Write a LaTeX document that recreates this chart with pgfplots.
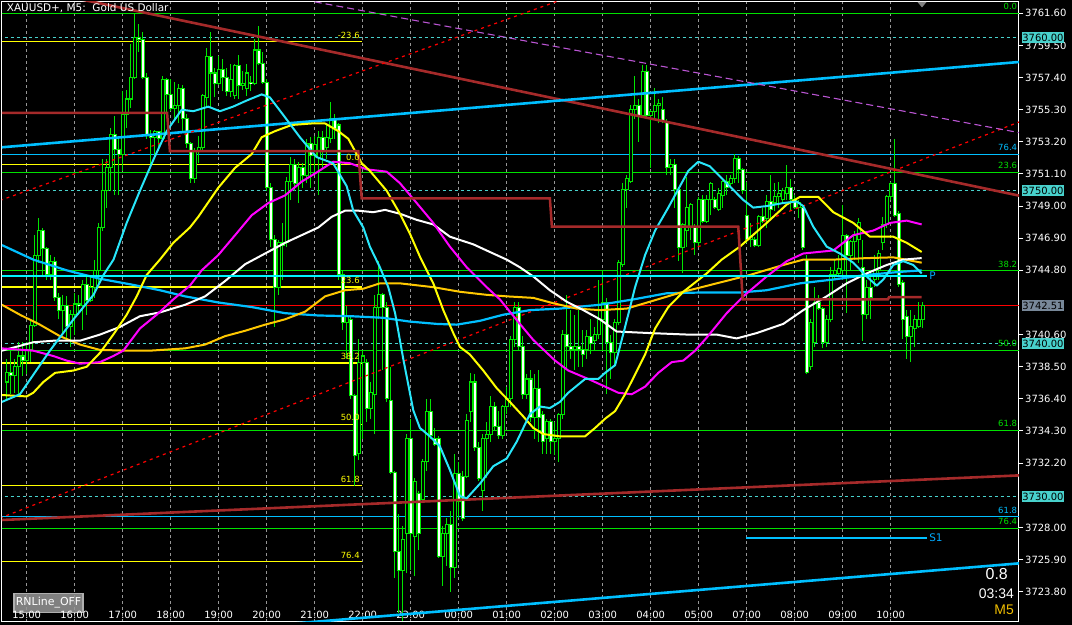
\documentclass[border=0pt]{standalone}
\usepackage{fontspec}
\setmainfont{DejaVu Sans}
\newfontfamily\arialf{Liberation Sans}
\usepackage{pgfplots}
\usepackage{pgfplotstable}
\pgfplotsset{compat=1.18}

\definecolor{cgreen}{RGB}{0,230,0}
\definecolor{fibgreen}{RGB}{0,225,0}
\definecolor{aqua}{RGB}{40,230,250}
\definecolor{sky}{RGB}{0,191,255}
\definecolor{goldma}{RGB}{255,200,0}
\definecolor{yel}{RGB}{255,255,0}
\definecolor{mag}{RGB}{255,0,255}
\definecolor{brn}{RGB}{165,42,42}
\definecolor{turq}{RGB}{72,209,204}
\definecolor{orch}{RGB}{186,85,211}
\definecolor{slate}{RGB}{120,136,153}
\definecolor{gridc}{RGB}{150,150,150}
\definecolor{pcyan}{RGB}{0,245,255}
\definecolor{plabel}{RGB}{0,170,255}
\definecolor{btn}{RGB}{128,128,128}
\definecolor{btnedge}{RGB}{175,175,175}
\definecolor{tfgold}{RGB}{240,190,0}

\tikzset{
  fibl/.style={anchor=south east, inner sep=0pt, yshift=3.2bp, font=\fontsize{8.5}{9}\selectfont},
  pbox/.style={anchor=west, xshift=2.7bp, inner xsep=0.5bp, inner ysep=0pt,
    minimum height=10.7bp, text=black, font=\fontsize{10}{12}\selectfont},
}

% M5 candles: bar index (0 = 15:00), open, high, low, close
\pgfplotstableread{
i o h l c
-5 3737.5 3739.0 3736.4 3738.1
-4 3738.1 3739.6 3736.7 3737.9
-3 3737.9 3739.0 3736.8 3738.5
-2 3738.5 3740.1 3736.7 3739.2
-1 3739.2 3740.1 3737.9 3738.9
0 3738.9 3740.1 3738.0 3739.6
1 3739.6 3741.6 3738.8 3741.2
2 3741.2 3747.1 3741.1 3745.8
3 3745.8 3748.2 3745.3 3747.4
4 3747.4 3747.6 3744.5 3746.2
5 3746.2 3746.3 3744.2 3744.5
6 3744.5 3745.8 3744.2 3745.4
7 3745.4 3745.7 3742.8 3743.0
8 3743.0 3743.3 3741.6 3742.2
9 3742.2 3743.2 3740.6 3742.5
10 3742.5 3743.1 3740.3 3741.1
11 3741.1 3742.2 3739.8 3741.9
12 3741.9 3743.3 3740.6 3742.6
13 3742.6 3743.2 3741.9 3742.5
14 3742.5 3744.2 3740.9 3743.9
15 3743.9 3744.5 3741.9 3742.8
16 3742.8 3744.5 3742.7 3743.7
17 3743.7 3745.5 3743.0 3744.8
18 3744.8 3747.9 3744.0 3747.6
19 3747.6 3752.1 3747.4 3750.0
20 3750.0 3752.1 3748.9 3751.5
21 3751.5 3754.1 3750.0 3753.7
22 3753.7 3754.9 3749.7 3752.7
23 3752.7 3753.4 3749.7 3752.4
24 3752.4 3756.5 3751.3 3755.0
25 3755.0 3756.6 3754.1 3756.0
26 3756.0 3759.6 3755.4 3757.4
27 3757.4 3761.6 3757.3 3760.0
28 3760.0 3760.9 3759.1 3759.9
29 3759.9 3760.4 3757.3 3757.4
30 3757.4 3757.7 3753.4 3753.6
31 3753.6 3754.0 3751.5 3753.5
32 3753.5 3754.0 3752.1 3753.9
33 3753.9 3753.9 3752.6 3753.4
34 3753.4 3757.5 3753.2 3757.3
35 3757.3 3757.4 3754.9 3756.3
36 3756.3 3757.3 3755.2 3755.4
37 3755.4 3757.1 3754.7 3755.6
38 3755.6 3757.0 3754.4 3756.7
39 3756.7 3756.9 3753.9 3754.7
40 3754.7 3755.0 3752.8 3753.1
41 3753.1 3753.2 3750.5 3750.8
42 3750.8 3752.8 3750.5 3752.6
43 3752.6 3753.6 3751.8 3752.8
44 3752.8 3756.3 3752.6 3756.2
45 3756.1 3759.3 3755.4 3758.8
46 3758.8 3760.4 3755.4 3757.7
47 3757.7 3758.0 3756.1 3757.0
48 3757.0 3758.8 3756.9 3757.9
49 3757.9 3758.6 3756.5 3757.4
50 3757.4 3758.0 3756.2 3756.5
51 3756.5 3758.3 3756.1 3757.3
52 3756.2 3758.3 3756.0 3758.2
53 3758.2 3758.9 3756.0 3756.9
54 3756.9 3757.8 3756.6 3757.0
55 3756.7 3758.3 3756.2 3757.7
56 3757.1 3757.5 3756.5 3757.0
57 3757.0 3759.9 3756.9 3759.2
58 3759.2 3760.8 3758.2 3758.3
59 3758.3 3759.1 3757.0 3757.1
60 3757.1 3757.3 3750.0 3750.2
61 3750.2 3750.5 3746.3 3746.8
62 3746.8 3747.1 3741.1 3743.7
63 3743.7 3746.8 3743.2 3746.6
64 3746.6 3747.9 3744.2 3746.4
65 3746.6 3750.9 3746.3 3750.6
66 3750.6 3752.2 3749.4 3751.7
67 3751.7 3752.1 3750.0 3750.5
68 3750.5 3751.9 3749.2 3751.5
69 3751.5 3751.8 3750.2 3751.0
70 3751.0 3753.4 3750.5 3753.1
71 3753.1 3753.5 3750.2 3752.3
72 3752.3 3753.6 3751.0 3753.0
73 3752.2 3753.9 3749.7 3753.5
74 3753.5 3753.9 3751.5 3752.6
75 3752.8 3754.4 3752.1 3753.5
76 3753.4 3755.8 3753.1 3754.7
77 3754.7 3755.0 3753.4 3754.1
78 3754.3 3754.4 3744.2 3744.5
79 3744.5 3744.8 3740.9 3741.4
80 3741.4 3742.5 3739.0 3741.8
81 3741.6 3741.9 3736.4 3736.6
82 3736.6 3736.7 3730.7 3732.7
83 3732.8 3740.3 3732.4 3738.8
84 3738.8 3739.6 3733.8 3739.2
85 3738.8 3739.0 3734.9 3735.8
86 3735.8 3737.5 3735.1 3736.8
87 3736.7 3743.2 3734.1 3742.4
88 3742.4 3745.4 3741.6 3743.2
89 3743.2 3743.3 3738.3 3742.4
90 3742.4 3742.7 3736.2 3736.4
91 3736.3 3738.5 3731.5 3731.6
92 3731.6 3731.7 3724.7 3726.4
93 3726.4 3728.9 3722.4 3725.2
94 3725.2 3728.1 3721.9 3727.2
95 3727.6 3734.1 3725.0 3733.8
96 3733.8 3735.1 3725.2 3727.6
97 3727.4 3731.2 3724.8 3731.0
98 3730.2 3730.4 3726.5 3727.6
99 3729.8 3732.5 3729.7 3732.3
100 3732.3 3736.4 3731.7 3735.6
101 3735.6 3736.4 3733.8 3734.0
102 3733.8 3734.5 3733.3 3733.4
103 3733.8 3734.0 3726.0 3726.1
104 3726.1 3728.1 3724.2 3727.6
105 3727.6 3728.6 3725.5 3728.2
106 3728.2 3729.1 3723.8 3725.4
107 3725.4 3732.8 3724.7 3731.5
108 3731.5 3732.3 3728.6 3729.7
109 3731.3 3731.7 3728.4 3728.6
110 3731.3 3735.4 3731.2 3735.0
111 3735.6 3738.1 3734.9 3737.5
112 3737.5 3738.0 3733.0 3733.2
113 3733.2 3733.6 3731.0 3731.2
114 3730.4 3734.1 3729.1 3733.8
115 3733.8 3734.9 3731.2 3734.1
116 3734.1 3736.6 3733.6 3735.9
117 3735.9 3736.2 3734.3 3734.6
118 3734.6 3735.6 3733.8 3734.0
119 3734.0 3736.0 3733.8 3735.9
120 3735.9 3737.2 3735.4 3736.4
121 3736.4 3740.5 3735.9 3740.3
122 3740.3 3742.7 3739.8 3742.4
123 3742.4 3742.7 3739.6 3739.8
124 3739.8 3740.5 3736.4 3736.7
125 3736.7 3738.0 3736.4 3737.7
126 3737.7 3738.3 3734.9 3735.2
127 3735.2 3738.0 3733.8 3737.1
128 3737.1 3738.3 3733.6 3735.2
129 3735.4 3735.6 3732.8 3733.6
130 3733.8 3735.1 3732.8 3734.9
131 3734.9 3735.1 3732.8 3733.6
132 3733.6 3734.9 3732.7 3733.8
133 3733.8 3735.5 3732.3 3735.4
134 3735.4 3740.9 3735.1 3740.6
135 3740.6 3743.2 3738.3 3739.8
136 3739.8 3742.2 3739.0 3739.6
137 3739.6 3741.9 3738.3 3739.8
138 3739.8 3742.2 3738.5 3739.6
139 3739.6 3740.9 3738.5 3739.3
140 3739.6 3740.9 3739.0 3740.5
141 3740.5 3741.6 3739.3 3740.0
142 3740.2 3741.1 3739.6 3740.6
143 3740.6 3744.2 3740.3 3741.6
144 3741.6 3744.8 3739.6 3742.7
145 3742.7 3743.0 3736.7 3740.1
146 3740.1 3740.6 3737.7 3739.4
147 3739.4 3741.6 3738.5 3741.4
148 3741.4 3745.5 3741.2 3745.3
149 3745.2 3750.5 3745.0 3750.1
150 3750.1 3751.0 3748.9 3750.8
151 3750.6 3755.6 3750.5 3755.3
152 3755.3 3757.5 3754.7 3755.6
153 3755.6 3756.0 3753.2 3754.9
154 3754.9 3758.2 3754.8 3757.8
155 3757.8 3758.2 3754.7 3754.9
156 3754.9 3755.3 3751.5 3755.2
157 3755.2 3756.7 3754.7 3755.6
158 3755.6 3756.0 3754.4 3755.7
159 3755.3 3756.1 3754.4 3754.5
160 3754.5 3754.7 3751.0 3751.5
161 3751.5 3752.1 3751.0 3751.7
162 3751.7 3752.1 3748.9 3750.1
163 3750.1 3750.2 3745.4 3746.3
164 3746.3 3747.9 3744.6 3747.8
165 3747.4 3750.9 3746.3 3748.9
166 3747.6 3749.2 3746.8 3749.1
167 3747.6 3747.8 3745.8 3746.6
168 3746.6 3749.6 3746.4 3749.4
169 3749.4 3749.7 3747.9 3748.0
170 3748.0 3749.7 3747.9 3749.4
171 3749.4 3750.6 3748.4 3750.5
172 3749.4 3749.6 3748.8 3748.9
173 3748.8 3750.2 3748.7 3749.8
174 3749.7 3750.8 3748.9 3750.6
175 3750.6 3751.0 3749.7 3750.2
176 3750.5 3751.0 3750.2 3750.8
177 3750.8 3752.4 3750.5 3752.1
178 3752.1 3752.3 3750.5 3751.4
179 3751.4 3751.5 3749.8 3750.0
180 3748.4 3750.6 3746.6 3746.8
181 3746.8 3747.9 3746.3 3747.0
182 3746.8 3747.0 3746.3 3746.4
183 3746.4 3748.4 3746.3 3748.3
184 3748.3 3748.9 3747.9 3748.0
185 3748.2 3749.7 3747.6 3749.3
186 3749.3 3751.0 3748.2 3748.8
187 3749.2 3750.5 3748.7 3749.6
188 3749.6 3750.6 3748.9 3749.8
189 3749.4 3750.2 3749.2 3750.0
190 3749.8 3751.7 3749.4 3750.2
191 3750.2 3750.8 3748.7 3749.4
192 3749.4 3749.7 3748.8 3748.9
193 3748.9 3749.4 3748.2 3749.2
194 3748.9 3749.1 3746.1 3746.3
195 3745.5 3745.8 3738.0 3738.1
196 3738.5 3741.6 3738.3 3741.4
197 3740.1 3743.7 3739.8 3742.7
198 3742.7 3743.2 3742.2 3742.3
199 3742.3 3742.4 3739.7 3740.1
200 3740.1 3741.9 3739.8 3741.6
201 3741.6 3745.0 3741.4 3744.5
202 3744.5 3745.5 3744.2 3744.8
203 3744.6 3745.8 3744.5 3744.9
204 3744.8 3749.1 3744.2 3747.1
205 3747.1 3747.2 3742.0 3745.8
206 3745.8 3746.8 3744.8 3746.7
207 3746.7 3747.4 3745.5 3747.1
208 3746.8 3748.2 3745.3 3747.9
209 3745.0 3746.8 3740.2 3741.9
210 3741.9 3744.2 3741.6 3743.7
211 3743.7 3744.8 3741.6 3743.0
212 3744.2 3745.8 3743.7 3744.8
213 3744.8 3746.1 3744.2 3745.9
214 3746.6 3748.3 3746.1 3747.8
215 3747.8 3749.7 3747.6 3749.6
216 3749.6 3750.6 3749.4 3750.5
217 3750.5 3753.4 3748.3 3748.4
218 3748.5 3748.7 3743.7 3743.9
219 3744.0 3744.2 3740.3 3741.6
220 3741.8 3742.2 3739.0 3740.5
221 3740.5 3742.2 3738.8 3741.1
222 3741.0 3741.9 3739.8 3741.6
223 3741.1 3742.7 3741.0 3741.6
224 3741.6 3742.7 3741.0 3742.5
}\candles

\begin{document}
\begin{tikzpicture}
\useasboundingbox (0,0) rectangle (1072bp,625bp);
\fill[black] (0,0) rectangle (1072bp,625bp);

% chart button, bottom left
\node[anchor=north west, fill=btn, draw=btnedge, line width=1.5bp, minimum width=69bp,
  minimum height=18.6bp, inner sep=0pt, text=white, font=\fontsize{11}{12}\selectfont]
  at (13.3bp,32bp) {RNLine\_OFF};

\begin{axis}[
  at={(2bp,3bp)}, anchor=south west,
  scale only axis, width=1017bp, height=620bp,
  xmin=-6.175, xmax=248.075,
  ymin=3721.816, ymax=3762.339,
  clip mode=individual,
  axis line style={white, line width=1bp},
  scaled y ticks=false,
  xtick={0,12,...,216},
  xticklabels={15:00,16:00,17:00,18:00,19:00,20:00,21:00,22:00,23:00,00:00,01:00,02:00,03:00,04:00,05:00,07:00,08:00,09:00,10:00},
  x tick style={draw=none},
  xmajorgrids,
  major x grid style={gridc, line width=0.8bp, dash pattern=on 3bp off 3bp},
  xticklabel style={anchor=base, yshift=8bp, font=\fontsize{10}{11}\selectfont, text=white},
  ytick={3723.8,3725.9,3728.0,3732.2,3734.3,3736.4,3738.5,3740.6,3744.8,3746.9,3749.0,3751.1,3753.2,3755.3,3757.4,3759.5,3761.6},
  ytick pos=right,
  yticklabel pos=right,
  tick align=outside,
  major tick length=4.5bp,
  y tick style={white, line width=1bp},
  yticklabel style={anchor=west, inner sep=0pt, xshift=1.5bp, font=\fontsize{10}{12}\selectfont, text=white},
  yticklabel={\pgfmathprintnumber[fixed,fixed zerofill,precision=2,1000 sep={}]{\tick}},
  /pgf/number format/assume math mode=true,
]

% green fibo levels (full width)
\addplot[fibgreen, line width=1bp] coordinates {(-7,3761.60) (249,3761.60)};
\addplot[fibgreen, line width=1bp] coordinates {(-7,3751.20) (249,3751.20)};
\addplot[fibgreen, line width=1bp] coordinates {(-7,3744.77) (249,3744.77)};
\addplot[fibgreen, line width=1bp] coordinates {(-7,3739.57) (249,3739.57)};
\addplot[fibgreen, line width=1bp] coordinates {(-7,3734.36) (249,3734.36)};
\addplot[fibgreen, line width=1bp] coordinates {(-7,3727.93) (249,3727.93)};
% blue fibo levels
\addplot[sky, line width=1bp] coordinates {(-7,3752.39) (249,3752.39)};
\addplot[sky, line width=1bp] coordinates {(-7,3728.68) (249,3728.68)};
% yellow fibo levels (left part)
\addplot[yel, line width=1.2bp] coordinates {(-7,3759.75) (83.75,3759.75)};
\addplot[yel, line width=1.2bp] coordinates {(-7,3751.73) (83.75,3751.73)};
\addplot[yel, line width=1.2bp] coordinates {(-7,3743.71) (83.75,3743.71)};
\addplot[yel, line width=1.2bp] coordinates {(-7,3738.74) (83.75,3738.74)};
\addplot[yel, line width=1.2bp] coordinates {(-7,3734.73) (83.75,3734.73)};
\addplot[yel, line width=1.2bp] coordinates {(-7,3730.72) (83.75,3730.72)};
\addplot[yel, line width=1.2bp] coordinates {(-7,3725.75) (83.75,3725.75)};
% round number levels
\addplot[turq, line width=1bp, dash pattern=on 3.5bp off 2.5bp] coordinates {(-7,3760) (249,3760)};
\addplot[turq, line width=1bp, dash pattern=on 3.5bp off 2.5bp] coordinates {(-7,3750) (249,3750)};
\addplot[turq, line width=1bp, dash pattern=on 3.5bp off 2.5bp] coordinates {(-7,3740) (249,3740)};
\addplot[turq, line width=1bp, dash pattern=on 3.5bp off 2.5bp] coordinates {(-7,3730) (249,3730)};
% current bid
\addplot[red, line width=1.5bp] coordinates {(-7,3742.51) (249,3742.51)};

% candles
\addplot[cgreen, line width=1bp, quiver={u=0, v={\thisrow{h}-\thisrow{l}}}]
  table[x=i, y=l] {\candles};
\addplot[cgreen, line width=3.8bp, quiver={u=0, v={abs(\thisrow{c}-\thisrow{o})+0.07}}]
  table[x=i, y expr={min(\thisrow{o},\thisrow{c})-0.035}] {\candles};
\addplot[white, line width=1.8bp, quiver={u=0, v={\thisrow{o}-\thisrow{c}-0.07}},
  restrict expr to domain={\thisrow{o}-\thisrow{c}}{0.1:100}]
  table[x=i, y expr={\thisrow{c}+0.035}] {\candles};
\addplot[black, line width=1.8bp, quiver={u=0, v={\thisrow{c}-\thisrow{o}-0.07}},
  restrict expr to domain={\thisrow{c}-\thisrow{o}}{0.1:100}]
  table[x=i, y expr={\thisrow{o}+0.035}] {\candles};

% trend lines
\addplot[brn, line width=2.6bp] coordinates {(-10,3763.80) (250,3749.58)};
\addplot[brn, line width=2.6bp] coordinates {(-10,3728.44) (250,3731.42)};
\addplot[sky, line width=2.6bp] coordinates {(-10,3752.76) (250,3758.46)};
\addplot[sky, line width=2.6bp] coordinates {(-10,3720.05) (250,3725.69)};
\addplot[red, line width=1.2bp, dash pattern=on 3bp off 4bp] coordinates {(-10,3749.06) (140,3763.07)};
\addplot[red, line width=1.2bp, dash pattern=on 3bp off 4bp] coordinates {(-10,3728.27) (250,3754.69)};
\addplot[orch, line width=1.1bp, dash pattern=on 7bp off 4bp] coordinates {(72,3762.35) (250,3753.71)};

% moving averages
\addplot[sky, line width=2.2bp, line join=round] coordinates {
(-6.2,3746.45) (1.65,3745.5) (10,3744.8) (18.3,3744.25) (26.65,3743.85) (33.3,3743.5)
(39.6,3743.1) (47.9,3742.7) (56.25,3742.4) (64.6,3742.0) (72.9,3741.85) (81.25,3741.8)
(89.1,3741.7) (95.8,3741.45) (102.5,3741.3) (107.5,3741.25) (113.3,3741.5) (119.15,3741.9)
(125.8,3742.2) (133.3,3742.3) (143.3,3742.55) (151.65,3742.9) (160,3743.3) (168.3,3743.35)
(178.3,3743.35) (185,3743.5) (193.3,3743.95) (201.65,3744.2) (210,3744.5) (218.3,3744.7)
(223.75,3744.8)};
\addplot[goldma, line width=2bp, line join=round] coordinates {
(-6.2,3742.55) (-1.7,3741.9) (3.3,3741.25) (8.3,3740.5) (13.3,3739.95) (18.3,3739.6)
(25,3739.55) (30.8,3739.55) (39.6,3739.7) (44.6,3739.95) (49.6,3740.5) (54.6,3740.85)
(59.6,3741.25) (64.6,3741.6) (69.6,3742.1) (74.6,3743.1) (79.6,3743.5) (84.15,3743.6)
(88.3,3743.95) (93.3,3743.95) (101.65,3743.7) (108.3,3743.4) (115,3743.2) (120,3743.1)
(126.65,3743.0) (131.65,3742.65) (137.5,3742.3) (143.3,3742.2) (150,3742.3) (155.8,3742.75)
(164.15,3743.4) (172.5,3743.95) (180.8,3744.5) (189.15,3745.15) (194.15,3745.5)
(201.65,3745.5) (210,3745.6) (216.65,3745.65) (223.75,3745.3)};
\addplot[white, line width=2bp, line join=round] coordinates {
(-6.2,3739.55) (1.65,3740.1) (6.65,3740.2) (13.3,3740.2) (18.3,3740.6) (23.3,3741.1)
(28.3,3741.8) (33.3,3742.05) (39.6,3742.55) (44.6,3743.1) (49.6,3744.1) (54.6,3745.2)
(59.6,3745.9) (64.6,3746.6) (68.75,3747.1) (72.9,3747.6) (76.25,3748.3) (79.6,3748.7)
(82.9,3748.7) (86.65,3748.6) (89.6,3748.75) (93.3,3748.5) (97.5,3748.1) (101.65,3747.8)
(105.8,3747.0) (111.65,3746.5) (115.8,3746.0) (120,3745.5) (123.3,3745.0) (126.65,3744.4)
(130.8,3743.5) (135,3742.75) (139.15,3742.2) (143.3,3741.6) (147.5,3740.8) (155.8,3740.7)
(165.4,3740.6) (172.5,3740.6) (177.5,3740.35) (182.5,3740.7) (189.15,3741.3) (194.15,3742.2)
(200,3743.1) (205,3743.95) (210,3744.6) (215,3745.15) (219.15,3745.5) (223.75,3745.6)};
\addplot[mag, line width=2bp, line join=round] coordinates {
(-6.2,3739.7) (1.65,3739.55) (6.65,3739.2) (10,3738.9) (13.3,3738.7) (18.3,3738.8)
(21.65,3739.2) (24.15,3739.55) (28.3,3741.0) (32.5,3741.9) (36.65,3742.9) (40.8,3743.8)
(43.75,3744.8) (47.9,3745.8) (52.1,3747.1) (56.25,3748.4) (60.4,3749.2) (64.6,3749.7)
(68.75,3750.6) (72.5,3751.2) (76.65,3751.9) (80.8,3751.8) (85,3751.4) (90,3751.25)
(93.3,3750.5) (97.5,3749.2) (101.65,3747.9) (105.8,3746.35) (110,3745.0) (115,3743.7)
(118.3,3742.9) (122.5,3741.55) (126.65,3740.25) (132.1,3738.9) (135.4,3738.25)
(140.4,3737.7) (144.6,3737.2) (147.9,3736.8) (151.25,3736.7) (154.6,3737.2) (157.9,3738.1)
(161.25,3738.8) (164.15,3738.9) (167.1,3739.55) (170,3740.4) (175,3742.0) (179.15,3743.1)
(185,3744.4) (190,3745.4) (194.15,3745.9) (201.65,3746.1) (206.65,3747.1) (211.65,3747.4)
(215.8,3747.9) (220,3748.05) (223.75,3747.8)};
\addplot[yel, line width=2bp, line join=round] coordinates {
(-6.2,3736.65) (0,3736.56) (1.65,3736.8) (4.15,3737.5) (7.1,3738.1) (11.65,3738.25)
(15,3738.5) (18.3,3739.4) (21.65,3740.6) (25,3741.9) (27.5,3743.1) (30,3744.5)
(33.3,3745.5) (36.65,3746.6) (40.8,3747.6) (42.9,3748.3) (47.9,3750.2) (52.1,3751.5)
(56.25,3752.4) (58.75,3753.5) (62.1,3753.9) (66.25,3754.3) (71.25,3754.4) (74.6,3754.4)
(77.9,3753.9) (80.4,3753.4) (83.75,3751.8) (85.8,3751.3) (90,3750.0) (93.3,3748.5)
(95.8,3747.2) (98.3,3745.7) (101.65,3743.95) (104.15,3742.2) (106.65,3740.7) (108.3,3739.8)
(110.8,3739.3) (114.15,3738.25) (117.5,3737.1) (120.8,3736.2) (124.15,3735.25)
(126.65,3734.5) (129.15,3734.1) (133.3,3733.95) (139.6,3733.95) (142.1,3734.5)
(144.6,3735.1) (147.1,3735.6) (149.6,3736.7) (152.1,3738.0) (154.6,3739.3) (157.1,3741.0)
(160.4,3742.4) (164.15,3743.4) (170,3744.6) (173.75,3745.5) (178.3,3746.35) (185,3747.9)
(190,3749.1) (193.3,3749.6) (197.9,3749.6) (201.65,3748.6) (206.65,3747.9) (210.8,3747.0)
(216.65,3747.0) (220,3746.6) (223.75,3746.0)};
\addplot[aqua, line width=2bp, line join=round] coordinates {
(-6.2,3736.2) (-1.7,3736.7) (5.8,3739.55) (11.7,3741.6) (16.7,3743.2) (19.2,3744.5)
(21.7,3745.5) (25,3747.9) (28.3,3750.0) (31.7,3752.05) (35,3753.9) (38.75,3755.3)
(41.65,3755.2) (45.4,3755.5) (48.3,3755.2) (51.6,3755.5) (55,3755.9) (58.75,3756.3)
(60.8,3756.1) (64.3,3754.9) (68.3,3753.5) (72.5,3752.2) (76.6,3751.8) (80,3750.3)
(81.65,3748.7) (84.15,3747.6) (85.8,3746.35) (88.3,3745.0) (90.4,3743.7) (92.1,3742.0)
(94.15,3739.0) (96.65,3735.65) (98.3,3734.5) (100.8,3733.95) (103.3,3733.3) (105.8,3731.75)
(108.3,3730.05) (110,3729.9) (113.3,3730.85) (116.65,3732.0) (120,3732.5) (122.5,3733.6)
(125.8,3735.4) (128.3,3735.9) (130.8,3735.8) (133.3,3736.2) (135.4,3736.8) (139.6,3737.7)
(142.9,3737.7) (144.6,3738.1) (147.1,3738.6) (149.6,3741.1) (152.1,3743.7) (154.6,3745.8)
(157.1,3747.4) (160.4,3748.9) (162.9,3750.1) (165.4,3751.3) (167.9,3751.9) (170.8,3751.6)
(175,3750.5) (179.15,3749.4) (181.65,3748.9) (185,3749.0) (189.15,3749.2) (192.5,3749.3)
(194.15,3749.0) (196.65,3747.65) (200,3746.35) (203.3,3745.9) (206.65,3745.3) (210,3744.4)
(212.5,3743.8) (214.15,3744.2) (216.65,3745.15) (219.15,3745.4) (221.65,3745.15)
(223.75,3744.6)};

% step line
\addplot[brn, line width=2.5bp] coordinates {
(-10,3755.1) (35.1,3755.1) (35.8,3752.6) (82.9,3752.6) (83.75,3749.5) (130.8,3749.5)
(131.3,3747.65) (177.9,3747.65) (179.0,3742.9) (215.3,3742.9) (215.6,3743.05) (223.75,3743.05)};

% pivot and support
\addplot[pcyan, line width=2bp] coordinates {(-10,3744.45) (225.0,3744.45)};
\addplot[sky, line width=2bp] coordinates {(179.8,3727.31) (225.0,3727.31)};

% level labels
\node[fibl, text=fibgreen] at (axis cs:247.65,3761.60) {0.0};
\node[fibl, text=fibgreen] at (axis cs:247.65,3751.20) {23.6};
\node[fibl, text=fibgreen] at (axis cs:247.65,3744.77) {38.2};
\node[fibl, text=fibgreen] at (axis cs:247.65,3739.57) {50.0};
\node[fibl, text=fibgreen] at (axis cs:247.65,3734.36) {61.8};
\node[fibl, text=fibgreen] at (axis cs:247.65,3727.93) {76.4};
\node[fibl, text=sky] at (axis cs:247.65,3752.39) {76.4};
\node[fibl, text=sky] at (axis cs:247.65,3728.68) {61.8};
\node[fibl, text=yel] at (axis cs:83.3,3759.75) {-23.6};
\node[fibl, text=yel] at (axis cs:83.3,3751.73) {0.0};
\node[fibl, text=yel] at (axis cs:83.3,3743.71) {23.6};
\node[fibl, text=yel] at (axis cs:83.3,3738.74) {38.2};
\node[fibl, text=yel] at (axis cs:83.3,3734.73) {50.0};
\node[fibl, text=yel] at (axis cs:83.3,3730.72) {61.8};
\node[fibl, text=yel] at (axis cs:83.3,3725.75) {76.4};
\node[anchor=west, inner sep=0pt, text=plabel, font=\fontsize{10.5}{12}\selectfont] at (axis cs:225.6,3744.45) {P};
\node[anchor=west, inner sep=0pt, text=plabel, font=\fontsize{10.5}{12}\selectfont] at (axis cs:225.6,3727.31) {S1};

\coordinate (r3760) at (axis cs:248.075,3760);
\coordinate (r3750) at (axis cs:248.075,3750);
\coordinate (r3740) at (axis cs:248.075,3740);
\coordinate (r3730) at (axis cs:248.075,3730);
\coordinate (rbid) at (axis cs:248.075,3742.51);
\end{axis}

% price boxes on the scale
\node[pbox, fill=turq] at (r3760) {3760.00};
\node[pbox, fill=turq] at (r3750) {3750.00};
\node[pbox, fill=turq] at (r3740) {3740.00};
\node[pbox, fill=turq] at (r3730) {3730.00};
\node[pbox, fill=slate] at (rbid) {3742.51};

% chart captions
\node[anchor=north west, inner sep=0pt, text=white, font=\fontsize{10.5}{12}\selectfont]
  at (6.7bp,621.5bp) {XAUUSD+, M5:\ \ Gold US Dollar};
\node[anchor=east, inner sep=0pt, text=white, font=\arialf\fontsize{16}{18}\selectfont]
  at (1008bp,51bp) {0.8};
\node[anchor=east, inner sep=0pt, text=white, font=\arialf\fontsize{14}{16}\selectfont]
  at (1014bp,31bp) {03:34};
\node[anchor=east, inner sep=0pt, text=tfgold, font=\arialf\fontsize{14}{16}\selectfont]
  at (1014bp,15bp) {M5};
\fill[btn] (917.5bp,623bp) -- (926.5bp,623bp) -- (922bp,617.5bp) -- cycle;
\end{tikzpicture}
\end{document}
